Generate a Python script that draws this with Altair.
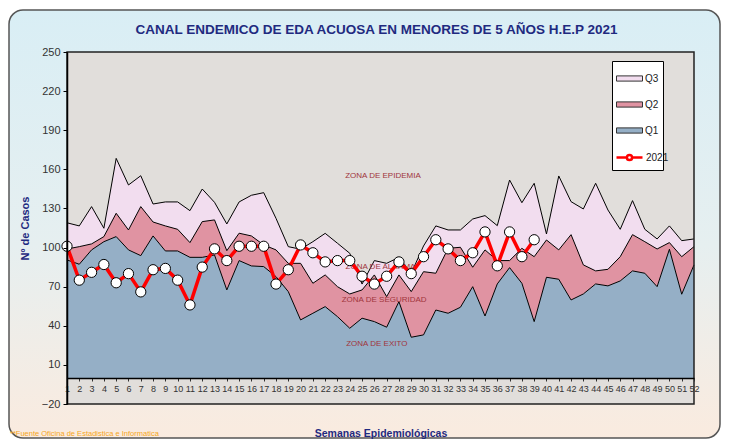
import altair as alt
import pandas as pd

weeks = list(range(1, 53))
q3 = [119, 116.6, 131.4, 114.8, 168.4, 148, 155.1, 133.4, 135, 135, 128.3, 144.9, 134.7, 118.1, 135, 140.1, 142.1,
      122.4, 100.7, 98.7, 104.5, 110.9, 103.3, 95.6, 72, 90, 87.9, 92.5, 80.3, 101.2, 116.6, 113.5, 113.5,
      121.9, 124.5, 116.8, 151.8, 134.4, 149.3, 110.4, 154.9, 135.2, 129.6, 149.3, 128.8, 114, 136, 114, 106.6,
      116.6, 105.3, 106.6]
q2 = [98.9, 100.7, 102.8, 108.4, 126.3, 113.5, 131.4, 119.6, 116.6, 114, 103.8, 119.9, 121.2, 97.6, 111, 108.9, 102,
      98.2, 87.9, 87.9, 72.6, 79, 70, 64.4, 67.5, 79, 62.4, 79, 66.2, 81.5, 80.3, 99.4, 100.2,
      84.9, 98.2, 90, 90, 99.4, 93, 105.8, 98.2, 109.9, 86.7, 82.1, 83.3, 93, 109.9, 104.5, 98.9, 103.8, 93, 100.7]
q1 = [90.5, 87.2, 98.2, 104.5, 108.4, 98.2, 93.8, 108.9, 97.4, 97.4, 92.5, 92.5, 94.3, 67.5, 90, 85.9, 85.4,
      77.7, 66.2, 44.5, 49.6, 54.7, 47, 38.1, 45.8, 43.2, 38.9, 58.5, 31.2, 33, 52.1, 49.6, 54.2,
      70, 47.5, 72.1, 84.6, 72.6, 43.2, 77.2, 75.7, 59.8, 64.4, 72.1, 70.6, 74.4, 82.1, 80.3, 70, 98.7, 64.2, 86.7]
y2021 = [101, 75, 81, 87, 73, 80, 66, 83, 84, 75, 56, 85, 99, 90, 101, 101, 101,
         72, 83, 102, 96, 89, 90, 90, 78, 72, 78, 89, 80, 93, 106, 99, 90,
         96, 112, 86, 112, 93, 106]

series_names = ["Q3", "Q2", "Q1"]
series_colors = ["#F2DDEF", "#E093A2", "#95AFC6"]
y_ticks = [-20, 10, 40, 70, 100, 130, 160, 190, 220, 250]

zone_labels = ["ZONA DE EPIDEMIA", "ZONA DE ALARMA", "ZONA DE SEGURIDAD", "ZONA DE EXITO"]
zone_weeks = [26.7, 26.5, 26.8, 26.2]
zone_values = [155, 85, 60, 26]

title_text = "CANAL ENDEMICO DE EDA ACUOSA EN MENORES DE 5 AÑOS H.E.P 2021"
source_text = "**Fuente Oficina de Estadistica e Informatica"

W, H = 627, 352
NAVY = "#1F2A80"
FONT = "Liberation Sans"

rows = []
for i, w in enumerate(weeks):
    rows.append({"week": w, "series": "Q3", "top": q3[i], "bottom": q2[i]})
    rows.append({"week": w, "series": "Q2", "top": q2[i], "bottom": q1[i]})
    rows.append({"week": w, "series": "Q1", "top": q1[i], "bottom": 0})
bands = pd.DataFrame(rows)
line_df = pd.DataFrame({"week": weeks[:len(y2021)], "top": y2021})
line_df["s"] = "2021"
zones = pd.DataFrame({"label": zone_labels, "week": zone_weeks, "top": zone_values})
one = pd.DataFrame({"k": [0]})

xscale = alt.Scale(domain=[1, 52], nice=False, zero=False)
yscale = alt.Scale(domain=[-20, 250], nice=False, zero=False)

xaxis = alt.Axis(values=weeks, format="d", offset=-26, tickSize=3, tickColor="#333", labelFontSize=9,
                 labelFont=FONT, labelColor="#333", labelOverlap=False, labelFlush=False,
                 labelPadding=3, domainColor="black", domainWidth=1.5, grid=False, zindex=2,
                 title="Semanas Epidemiológicas", titleFont=FONT, titleFontSize=10.5,
                 titleFontWeight="bold", titleColor=NAVY, titlePadding=35)
yaxis = alt.Axis(values=y_ticks, tickSize=4, tickColor="black", labelFontSize=11, labelFont=FONT,
                 labelColor="#333", labelPadding=3, domainColor="black", domainWidth=1.5, grid=False, zindex=2,
                 title="Nº de Casos", titleFont=FONT, titleFontSize=11, titleFontWeight="bold",
                 titleColor=NAVY, titlePadding=11)


def X():
    return alt.X("week:Q", scale=xscale, axis=xaxis)


def Y():
    return alt.Y("top:Q", scale=yscale, axis=yaxis)


grad = alt.LinearGradient(
    gradient="linear", x1=0, y1=0, x2=0, y2=1,
    stops=[alt.GradientStop(color="#D9EEF5", offset=0),
           alt.GradientStop(color="#E6EFF0", offset=0.55),
           alt.GradientStop(color="#FAEBDF", offset=1)])

frame = alt.Chart(one).mark_rect(fill=grad, stroke="#555555", strokeWidth=1.5, cornerRadius=14).encode(
    x=alt.value(-58), x2=alt.value(W + 26), y=alt.value(-42), y2=alt.value(H + 34))

plotbg = alt.Chart(one).mark_rect(fill="#E1DEDB").encode(
    x=alt.value(0), x2=alt.value(W), y=alt.value(0), y2=alt.value(H))

areas = alt.Chart(bands).mark_area(opacity=1).encode(
    x=X(), y=Y(), y2="bottom:Q",
    fill=alt.Fill("series:N", scale=alt.Scale(domain=series_names, range=series_colors),
                  legend=alt.Legend(title=" ", titleOrient="bottom", titleFontSize=14, titlePadding=16,
                                    orient="none", legendX=545, legendY=9,
                                    fillColor="white", strokeColor="black", padding=4,
                                    symbolType="M-1,-0.2H1V0.2H-1Z", symbolSize=676,
                                    symbolStrokeColor="#333", symbolStrokeWidth=1, symbolOpacity=1,
                                    labelFontSize=10, labelFont=FONT, labelColor="#222",
                                    rowPadding=7, labelOffset=2)),
)

outlines = alt.Chart(bands).mark_line(color="black", strokeWidth=1).encode(
    x=X(), y=Y(), detail="series:N",
)

zone_text = alt.Chart(zones).mark_text(font=FONT, fontSize=8, color="#A0353C").encode(
    x=X(), y=Y(), text="label:N",
)

redline = alt.Chart(line_df).mark_line(strokeWidth=3.5).encode(
    x=X(), y=Y(),
    stroke=alt.Stroke("s:N", scale=alt.Scale(domain=["2021"], range=["#FF0000"]),
                      legend=alt.Legend(title=None, orient="none", legendX=548, legendY=91,
                                        symbolType="M-1,0H-0.2M0.2,0H1M0.2,0A0.2,0.2 0 1,1 -0.2,0A0.2,0.2 0 1,1 0.2,0",
                                        symbolSize=676, symbolStrokeWidth=2.5, symbolFillColor="white",
                                        labelFontSize=10, labelFont=FONT, labelColor="#222",
                                        labelOffset=2)),
)

points = alt.Chart(line_df).mark_point(filled=True, fill="white", stroke="black", strokeWidth=1,
                                       size=105, opacity=1).encode(x=X(), y=Y())

border = alt.Chart(one).mark_rect(fillOpacity=0, stroke="#222", strokeWidth=1.5).encode(
    x=alt.value(0), x2=alt.value(W), y=alt.value(0), y2=alt.value(H))

title = alt.Chart(one).mark_text(text=title_text, font=FONT, fontSize=13.5, fontWeight="bold",
                                 color=NAVY, align="center", baseline="middle").encode(
    x=alt.value(W / 2 - 4), y=alt.value(-22))

source = alt.Chart(one).mark_text(text=source_text, font=FONT, fontSize=7.5,
                                  color="#F5A623", align="left", baseline="middle").encode(
    x=alt.value(-57), y=alt.value(382))

chart = alt.layer(frame, plotbg, areas, outlines, zone_text, redline, points, border, title, source).properties(
    width=W, height=H,
    autosize=alt.AutoSizeParams(type="none"),
    padding={"left": 59, "top": 44, "right": 28, "bottom": 36},
).configure_view(stroke=None).configure(background="white")

chart.save("out.html", embed_options={"renderer": "svg", "actions": False})
